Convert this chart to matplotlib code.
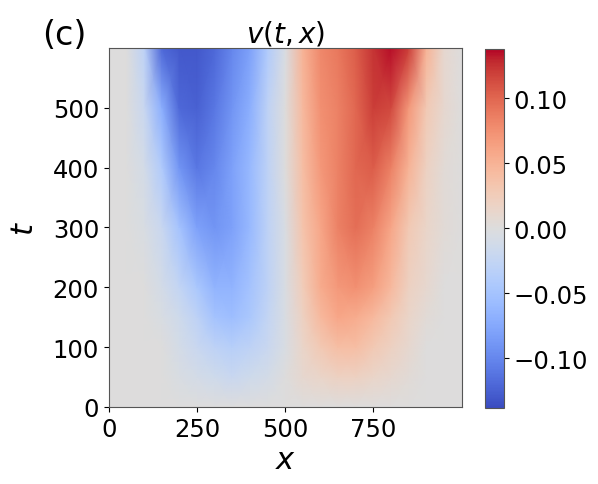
import numpy as np
import matplotlib
matplotlib.use('Agg')
import matplotlib.pyplot as plt

# grid
x = [0, 50, 100, 150, 200, 250, 300, 350, 400, 450, 500,
     550, 600, 650, 700, 750, 800, 850, 900, 950, 1000]
t = [0, 50, 100, 150, 200, 300, 400, 500, 600]

v_t0 = [0] * 21
v_t50 = [0, 0, 0, 0, -0.005, -0.01, -0.015, -0.02, -0.015, -0.01, 0,
         0.01, 0.015, 0.02, 0.02, 0.015, 0.01, 0.005, 0, 0, 0]
v_t100 = [0, 0, 0, 0, -0.01, -0.02, -0.03, -0.035, -0.03, -0.02, -0.005,
          0.015, 0.03, 0.04, 0.04, 0.03, 0.02, 0.01, 0, 0, 0]
v_t150 = [0, 0, 0, -0.005, -0.015, -0.03, -0.05, -0.055, -0.045, -0.025, -0.005,
          0.02, 0.045, 0.06, 0.055, 0.045, 0.03, 0.015, 0.005, 0, 0]
v_t200 = [0, 0, 0, -0.01, -0.025, -0.045, -0.065, -0.065, -0.05, -0.03, -0.005,
          0.025, 0.055, 0.07, 0.075, 0.065, 0.045, 0.02, 0.01, 0, 0]
v_t300 = [0, 0, -0.005, -0.02, -0.05, -0.08, -0.09, -0.08, -0.06, -0.03, -0.005,
          0.035, 0.06, 0.085, 0.095, 0.085, 0.06, 0.03, 0.015, 0.005, 0]
v_t400 = [0, 0, -0.01, -0.04, -0.09, -0.11, -0.10, -0.08, -0.06, -0.03, 0.0,
          0.04, 0.07, 0.085, 0.10, 0.105, 0.085, 0.05, 0.02, 0.005, 0]
v_t500 = [0, 0, -0.02, -0.07, -0.12, -0.125, -0.11, -0.09, -0.07, -0.03, 0.0,
          0.045, 0.075, 0.085, 0.10, 0.12, 0.115, 0.07, 0.03, 0.01, 0]
v_t600 = [0, 0, -0.03, -0.12, -0.13, -0.13, -0.12, -0.10, -0.08, -0.04, -0.005,
          0.05, 0.08, 0.09, 0.105, 0.125, 0.135, 0.12, 0.05, 0.01, 0]

v = np.array([v_t0, v_t50, v_t100, v_t150, v_t200,
              v_t300, v_t400, v_t500, v_t600])

vlim = 0.138

fig = plt.figure(figsize=(5.98, 4.85), dpi=100)
ax = fig.add_axes([0.182, 0.159, 0.590, 0.740])
cax = fig.add_axes([0.811, 0.157, 0.032, 0.740])

m = ax.pcolormesh(x, t, v, shading='gouraud', cmap='coolwarm',
                  vmin=-vlim, vmax=vlim, rasterized=True)
ax.set_xlim(0, 1000)
ax.set_ylim(0, 600)
ax.set_xticks([0, 250, 500, 750])
ax.set_yticks([0, 100, 200, 300, 400, 500])
ax.tick_params(labelsize=17.5, length=3.5)
ax.set_xlabel('$x$', fontsize=22, labelpad=3)
ax.set_ylabel('$t$', fontsize=22, labelpad=10)
ax.set_title('$v(t,x)$', fontsize=20, pad=4)
for s in ax.spines.values():
    s.set_color('#555555')

cb = fig.colorbar(m, cax=cax)
cb.set_ticks([-0.10, -0.05, 0.00, 0.05, 0.10])
cb.ax.tick_params(labelsize=17.5, length=3.5)
cb.outline.set_edgecolor('#555555')

fig.text(0.108, 0.926, '(c)', fontsize=24, ha='center', va='center')

fig.savefig('out.png', dpi=100)
